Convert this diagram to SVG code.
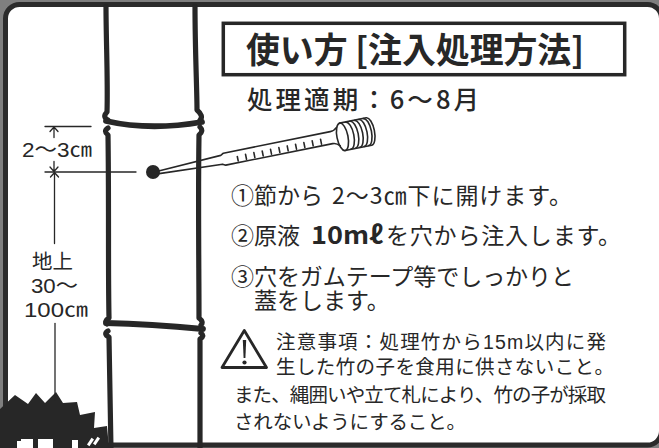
<svg xmlns="http://www.w3.org/2000/svg" width="659" height="448" viewBox="0 0 659 448">
  <style>
    .ink{fill:none;stroke:#272727;stroke-linecap:round;stroke-linejoin:round}
    .culm{stroke-width:5.2}
    .band{stroke-width:5.8}
    .thin{stroke-width:1.3}
    .t{font-family:"Noto Sans CJK JP","Noto Sans",sans-serif;fill:#272727}
    .tl{font-family:"Liberation Sans","Noto Sans CJK JP",sans-serif;fill:#272727}
    .body{font-size:23px}
    .note{font-size:19.5px}
    .dim{font-size:20.5px}
  </style>

  <!-- backdrop and sheet -->
  <rect width="659" height="448" fill="#7f7f7f"/>
  <rect x="5.5" y="4.5" width="656" height="440.5" rx="14" fill="#fff" stroke="#2b2b2b" stroke-width="5"/>

  <!-- bamboo culm with two nodes -->
  <g id="bamboo" class="ink">
    <path class="culm" d="M106,6 C106,40 108,80 107,112 Q102,117 108,120"/>
    <path class="culm" d="M195,6 C195,50 197,90 197,110 Q204,116 200,120"/>
    <path class="band" d="M106,121 Q150,131 202,122"/>
    <path class="culm" d="M108,128 Q103,131 108,135 C109,200 108,270 109,318 Q104,321 107,324"/>
    <path class="culm" d="M200,127 Q204,131 199,135 C198,200 199,270 199,318 Q204,322 201,325"/>
    <path class="band" d="M106,323 Q150,324 203,329"/>
    <path class="culm" d="M108,331 Q103,334 109,337 L111,450"/>
    <path class="culm" d="M201,333 Q205,336 200,339 L200,450"/>
  </g>

  <!-- badge at lower left -->
  <g id="badge">
    <polygon fill="#272727" points="0,409 15,395 28,404 36,393 45,403 56,392 63,403 77,402 80,415 95,412 94,428 107,426 109,448 0,448"/>
    <g fill="#fff">
      <rect x="17" y="441" width="5" height="7"/>
      <rect x="21" y="439" width="12" height="9"/>
      <rect x="38" y="439" width="15" height="9"/>
      <rect x="72" y="440" width="6" height="8"/>
      <rect x="89" y="438" width="3" height="8" transform="rotate(35 90.5 442)"/>
      <rect x="95" y="437" width="3" height="8" transform="rotate(35 96.5 441)"/>
    </g>
  </g>

  <!-- dimension: 2~3 cm below the node -->
  <g id="dim-upper">
    <g class="ink thin">
      <path d="M45,126.5 H91"/>
      <path d="M54,127 V137.5 M50,131.5 L54,127 L58,131.5"/>
    </g>
    <text class="tl dim" x="22" y="157" textLength="70" lengthAdjust="spacingAndGlyphs">2〜3㎝</text>
  </g>

  <!-- dimension: 30~100 cm above ground -->
  <g id="dim-lower">
    <g class="ink thin">
      <path d="M45,172 H136"/>
      <path d="M54,161.5 V171.5 M50,167 L54,171.5 L58,167"/>
      <path d="M54.5,172.5 V243.5 M50.5,177 L54.5,172.5 L58.5,177"/>
      <path d="M55,323.5 V400"/>
    </g>
    <text class="tl dim">
      <tspan x="32" y="268.5" textLength="41" lengthAdjust="spacingAndGlyphs">地上</tspan>
      <tspan x="31" y="292.5" textLength="47" lengthAdjust="spacingAndGlyphs">30〜</tspan>
      <tspan x="24" y="316.5" textLength="64" lengthAdjust="spacingAndGlyphs">100㎝</tspan>
    </text>
  </g>

  <!-- injection syringe pointing at the hole -->
  <g id="syringe">
    <circle cx="153" cy="172" r="7" fill="#272727"/>
    <g class="ink" stroke-width="1.6" transform="translate(153,173.5) rotate(-11.4)">
      <path d="M6,-1.3 L70,-4.4 L73,-6 L182,-6 Q186,-6 189,-9 M6,1.3 L70,4.6 L73,6.2 L182,6.2 Q186,6.2 189,10"/>
      <path d="M86,0 V4.5 M94.5,-0.5 V4.5 M103,-0.5 V4.5 M111.5,-0.5 V4.5 M120,-0.5 V4.5 M128.5,-0.5 V4.5 M137,-0.5 V4.5 M145.5,-0.5 V4.5 M154,-0.5 V4.5 M162.5,-0.5 V4.5 M171,-0.5 V4.5"/>
      <g transform="translate(0,1.5)">
        <ellipse cx="193" cy="0" rx="5.5" ry="14"/>
        <path d="M193,-14 H220 A5.5,14 0 0 1 220,14 H193"/>
        <path d="M199,-13.7 A5.5,13.7 0 0 1 199,13.7 M203.5,-13.7 A5.5,13.7 0 0 1 203.5,13.7 M208,-13.7 A5.5,13.7 0 0 1 208,13.7 M212.5,-13.7 A5.5,13.7 0 0 1 212.5,13.7 M217,-13.7 A5.5,13.7 0 0 1 217,13.7"/>
      </g>
    </g>
  </g>

  <!-- heading -->
  <g id="heading">
    <rect x="223.3" y="23.3" width="401.4" height="51.4" fill="none" stroke="#272727" stroke-width="3.5"/>
    <text class="t" x="246" y="62.5" font-size="35" font-weight="700" textLength="338" lengthAdjust="spacingAndGlyphs">使い方 [注入処理方法]</text>
  </g>

  <!-- treatment period -->
  <g id="period">
    <text class="t" x="247" y="108.5" font-size="25.5" font-weight="500" textLength="232" lengthAdjust="spacing">処理適期：6〜8月</text>
  </g>

  <!-- steps -->
  <g id="steps">
    <text class="t body" x="231" y="204">①節から</text>
    <text class="t body" x="332" y="204" textLength="240" lengthAdjust="spacing">2〜3㎝下に開けます。</text>
    <text class="t body" x="231" y="244">②原液</text>
    <text class="t" x="311" y="244" font-size="25" font-weight="700" textLength="72" lengthAdjust="spacingAndGlyphs">10mℓ</text>
    <text class="t body" x="386" y="244" textLength="235" lengthAdjust="spacing">を穴から注入します。</text>
    <text class="tl body">
      <tspan x="231" y="285" textLength="343" lengthAdjust="spacing">③穴をガムテープ等でしっかりと</tspan>
      <tspan x="254" y="309">蓋をします。</tspan>
    </text>
  </g>

  <!-- caution -->
  <g id="caution">
    <path d="M244.3,330.5 L266.5,367.5 L222,367.5 Z" fill="none" stroke="#272727" stroke-width="2.8" stroke-linejoin="round"/>
    <path d="M242.8,340 H246.2 L245.4,358 H243.6 Z" fill="#272727"/>
    <circle cx="244.5" cy="362.5" r="2.1" fill="#272727"/>
    <text class="tl note">
      <tspan x="276" y="348.5" textLength="330" lengthAdjust="spacing">注意事項：処理竹から15m以内に発</tspan>
      <tspan x="276" y="373.5" textLength="338" lengthAdjust="spacing">生した竹の子を食用に供さないこと。</tspan>
      <tspan x="234" y="401.5" textLength="372" lengthAdjust="spacing">また、縄囲いや立て札により、竹の子が採取</tspan>
      <tspan x="234" y="428.5" textLength="232" lengthAdjust="spacing">されないようにすること。</tspan>
    </text>
  </g>
</svg>
